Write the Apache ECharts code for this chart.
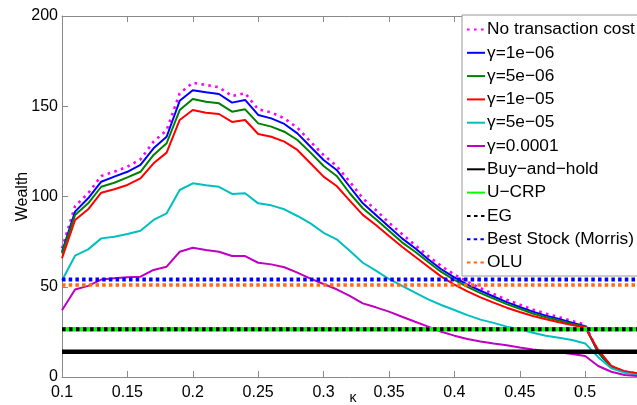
<!DOCTYPE html>
<html>
<head>
<meta charset="utf-8">
<script src="https://cdn.jsdelivr.net/npm/echarts@6/dist/echarts.min.js"></script>
<style>html,body{margin:0;padding:0;background:#fff;}#c{width:637px;height:405px;}</style>
</head>
<body>
<div id="c"></div>
<script>
const kappa = [0.10,0.11,0.12,0.13,0.14,0.15,0.16,0.17,0.18,0.19,
  0.20,0.21,0.22,0.23,0.24,0.25,0.26,0.27,0.28,0.29,
  0.30,0.31,0.32,0.33,0.34,0.35,0.36,0.37,0.38,0.39,
  0.40,0.41,0.42,0.43,0.44,0.45,0.46,0.47,0.48,0.49,
  0.50,0.51,0.52,0.53,0.54];
const noCost = [71.3,94.7,101.8,111.4,113.7,116.5,120.6,130.4,136.8,157.2,
  163,161.8,160.5,155.7,157.2,148.3,146.6,143.3,138.1,130.4,
  123,116.9,108.2,99,92.5,85.5,79.2,73.1,67,61.5,
  56.8,52.8,49.2,46,42.8,40.1,37.4,35.1,33.2,31,
  29,13.8,5.9,3,2];
const g1e6 = [69.4,91.6,99,108.2,111,113.7,117.5,126.7,133.1,153,
  158.9,157.7,156.8,152,153.5,145.2,143.3,140.2,135,127.6,
  120.2,114.7,105.4,96.2,89.8,83.3,76.8,71.3,65.2,59.7,
  55.2,51.2,47.8,44.6,41.5,38.8,36.2,34,32.2,30.1,
  28.2,13.6,5.7,2.9,1.8];
const g5e6 = [68.5,89.8,96.2,105.4,107.6,110.6,113.7,123,129.5,147.9,
  154,152.5,151.6,147,148.3,140.5,138.7,135.9,131.3,124.3,
  116.9,111.4,101.8,93.5,87.4,81,74.6,69.4,63.7,58.2,
  53.8,49.9,46.5,43.4,40.4,37.8,35.2,33.1,31.3,29.4,
  27.9,13.8,5.6,2.8,1.7];
const g1e5 = [65.8,87,92.9,102.1,104,106.4,110,118.4,124.3,142.4,
  147.9,146.4,145.7,141.3,142.4,134.6,133.1,130.4,125.8,118.4,
  111,105.8,97.7,89.8,84.2,78.1,72.2,66.6,61.1,55.6,
  51.2,47.4,44.1,41.2,38.4,36,33.8,32,30.3,28.8,
  27.4,15,6.2,3.2,2.1];
const g5e5 = [53.5,67.2,70.7,76.8,77.7,79.2,81,87,90.7,103.6,
  107.3,106.2,105.4,101.4,101.8,96.2,95.1,92.9,89.2,85.1,
  79.9,76.3,70,63.3,58.9,54.3,50.5,46.7,43,39.9,
  37.1,34.3,31.8,30,27.9,26.4,24.5,22.9,21.8,20.5,
  18.6,11,4.8,2.4,1.1];
const g1e4 = [37,48.5,50.5,54,54.7,55.2,55.6,59.3,61.1,69.4,
  71.6,70.4,69.4,67,67,63.3,62.4,60.8,57.8,54.5,
  51.5,48.6,44.9,40.8,38.6,36.2,33.4,30.6,27.9,25.1,
  22.9,21.1,19.7,18.6,17.6,16.4,15.3,14.4,13.7,12.7,
  11.6,6.1,2.9,1.1,0.6];
const buyHold = 14;
const ucrp = 26.5;
const eg = 26.5;
const bestStock = 54;
const olu = 51;
const xRange = [0.1, 0.545];
const yTicks = [0, 50, 100, 150, 200];

const FONT = 'Liberation Sans, Arial, sans-serif';
const pair = ys => kappa.map((k, i) => [k, ys[i]]);
const flat = v => xRange.map(k => [k, v]);

function curve(name, data, color, width, type) {
  return { name, type: 'line', data, symbol: 'none', showSymbol: false,
    lineStyle: { color, width, type: type || 'solid', cap: 'butt' },
    itemStyle: { color }, silent: true, z: 2 };
}

const series = [
  curve('No transaction cost', pair(noCost), '#ff00ff', 2.6, [2.6, 4.4]),
  curve('γ=1e−06', pair(g1e6), '#0000ff', 2),
  curve('γ=5e−06', pair(g5e6), '#008000', 2),
  curve('γ=1e−05', pair(g1e5), '#ff0000', 2),
  curve('γ=5e−05', pair(g5e5), '#00bfbf', 2),
  curve('γ=0.0001', pair(g1e4), '#bf00bf', 2),
  curve('Buy−and−hold', flat(buyHold), '#000000', 4.5),
  curve('U−CRP', flat(ucrp), '#00ff00', 4.5),
  curve('EG', flat(eg), '#000000', 4, [3.5, 3.5]),
  curve('Best Stock (Morris)', flat(bestStock), '#0000ff', 4, [3.5, 3.2]),
  curve('OLU', flat(olu), '#ff6a13', 3.5, [3.5, 3.2])
];

const axisGray = '#8a8a8a';
const chart = echarts.init(document.getElementById('c'), null, { renderer: 'canvas' });
chart.setOption({
  animation: false,
  backgroundColor: '#fff',
  grid: { left: 62, top: 16, bottom: 28, right: -7, outerBoundsMode: 'none', containLabel: false },
  xAxis: [{
    type: 'value', min: xRange[0], max: xRange[1], interval: 0.05,
    name: 'κ', nameLocation: 'middle', nameGap: 14, nameMoveOverlap: false,
    nameTextStyle: { fontSize: 14, fontFamily: FONT, color: '#000' },
    axisLine: { lineStyle: { color: axisGray, width: 1 } },
    axisTick: { inside: true, length: 6, lineStyle: { color: axisGray } },
    axisLabel: { fontSize: 16, fontFamily: FONT, color: '#000', margin: 8,
      formatter: v => String(+v.toFixed(2)), showMaxLabel: false },
    splitLine: { show: false }
  }, {
    type: 'value', position: 'top', min: xRange[0], max: xRange[1], interval: 0.05,
    axisLine: { lineStyle: { color: axisGray, width: 1 } },
    axisTick: { inside: true, length: 6, lineStyle: { color: axisGray } },
    axisLabel: { show: false }, splitLine: { show: false }
  }],
  yAxis: {
    type: 'value', min: yTicks[0], max: yTicks[yTicks.length - 1], interval: 50,
    name: 'Wealth', nameLocation: 'middle', nameGap: 31, nameRotate: 90, nameMoveOverlap: false,
    nameTextStyle: { fontSize: 16, fontFamily: FONT, color: '#000' },
    axisLine: { show: true, lineStyle: { color: axisGray, width: 1 } },
    axisTick: { show: true, inside: true, length: 6, lineStyle: { color: axisGray } },
    axisLabel: { fontSize: 16, fontFamily: FONT, color: '#000', margin: 4 },
    splitLine: { show: false }
  },
  legend: {
    orient: 'vertical', left: 462, top: 15,
    padding: [6, 40, 5, 4],
    itemWidth: 18, itemHeight: 14, itemGap: 6.3,
    backgroundColor: '#fff', borderColor: '#999', borderWidth: 1, borderRadius: 0,
    textStyle: { fontSize: 17.3, fontFamily: FONT, color: '#000', padding: [0, 0, 0, -3] },
    itemStyle: { opacity: 0 },
    selectedMode: false,
    data: series.map(s => s.name)
  },
  series
});
</script>
</body>
</html>
